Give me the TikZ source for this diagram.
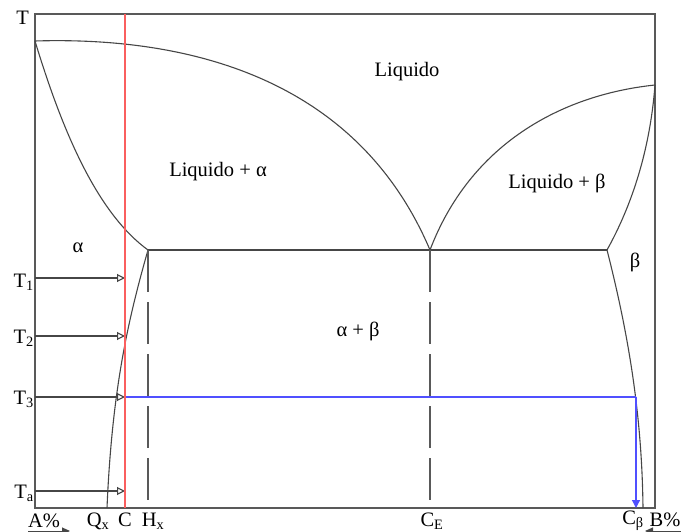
\documentclass[tikz,border=0pt]{standalone}
\usepackage{fontspec}
\setmainfont{Liberation Serif}
\usetikzlibrary{arrows.meta}
\definecolor{ln}{RGB}{70,70,70}
\definecolor{redl}{RGB}{250,95,95}
\definecolor{bluel}{RGB}{80,80,255}
\tikzset{
  curve/.style={draw=ln, line width=1.1pt},
  frame/.style={draw=ln!90, line width=1.4pt},
  dashv/.style={draw=ln!90, line width=1.4pt, dash pattern=on 42pt off 10pt},
  tarrow/.style={draw=ln, line width=1.1pt, -{Triangle[open, length=8pt, width=8pt]}},
  lbl/.style={font=\fontsize{20.5}{22}\selectfont, inner sep=0pt},
}
\begin{document}
\begin{tikzpicture}[x=1pt, y=-1pt]
\useasboundingbox (0,0) rectangle (681,532);
% frame
\coordinate (tl) at (35,14);
\coordinate (tr) at (655,14);
\coordinate (bl) at (35,508);
\coordinate (br) at (655,508);
\draw[frame] (bl) -- (tl) -- (tr) -- (br) -- cycle;
% key points
\coordinate (pA) at (35,41);
\coordinate (pB) at (655,85);
\coordinate (E) at (430,250);
\coordinate (Ha) at (148,250);
\coordinate (Hb) at (607,250);
\coordinate (Qx) at (107,508);
\coordinate (Cb) at (643,508);
\coordinate (HxB) at (148,508);
\coordinate (CEB) at (430,508);
% liquidus
\draw[curve] (pA) .. controls (200,36) and (360,85) .. (E);
\draw[curve] (E) .. controls (470,145) and (560,95) .. (pB);
% solidus
\draw[curve] (pA) .. controls (65,140) and (100,215) .. (Ha);
\draw[curve] (Hb) .. controls (632,205) and (650,150) .. (pB);
% eutectic
\draw[curve] (Ha) -- (Hb);
% solvus
\draw[curve] (Ha) .. controls (128,320) and (112,390) .. (Qx);
\draw[curve] (Hb) .. controls (630,340) and (642,420) .. (Cb);
% dashed verticals
\draw[dashv] (Ha) -- (HxB);
\draw[dashv] (E) -- (CEB);
% temperature arrows
\coordinate (T1s) at (35,278); \coordinate (T1e) at (125,278);
\coordinate (T2s) at (35,336); \coordinate (T2e) at (125,336);
\coordinate (T3s) at (35,397); \coordinate (T3e) at (125,397);
\coordinate (Tas) at (35,491); \coordinate (Tae) at (125,491);
\draw[tarrow] (T1s) -- (T1e);
\draw[tarrow] (T2s) -- (T2e);
\draw[tarrow] (T3s) -- (T3e);
\draw[tarrow] (Tas) -- (Tae);
% blue tie line
\coordinate (bS) at (125,397);
\coordinate (bC) at (636,397);
\coordinate (bE) at (636,508);
\draw[draw=bluel, line width=1.2pt] (bS) -- (bC);
\draw[draw=bluel, fill=bluel, line width=1.2pt, -{Triangle[length=8pt, width=8pt]}] (bC) -- (bE);
% red composition line
\coordinate (rT) at (125,14);
\coordinate (rB) at (125,508);
\draw[redl, line width=1.3pt] (rT) -- (rB);
% left labels
\node[lbl, anchor=east] (lT) at (29,18) {T};
\node[lbl, anchor=east] (lT1) at (34,282) {T\textsubscript{1}};
\node[lbl, anchor=east] (lT2) at (34,338) {T\textsubscript{2}};
\node[lbl, anchor=east] (lT3) at (34,399) {T\textsubscript{3}};
\node[lbl, anchor=east] (lTa) at (34,493) {T\textsubscript{a}};
% region labels
\node[lbl] (liq) at (407,72) {Liquido};
\node[lbl] (liqa) at (218,172) {Liquido + α};
\node[lbl] (liqb) at (557,183) {Liquido + β};
\node[lbl] (alpha) at (78,248) {α};
\node[lbl] (beta) at (635,262) {β};
\node[lbl] (ab) at (358,331) {α + β};
% bottom labels
\node[lbl] (lA) at (44,521) {A\%};
\node[lbl] (lQ) at (98,521) {Q\textsubscript{x}};
\node[lbl] (lC) at (125,520) {C};
\node[lbl] (lH) at (153,521) {H\textsubscript{x}};
\node[lbl] (lCE) at (432,521) {C\textsubscript{E}};
\node[lbl] (lCb) at (633,521) {C\textsubscript{β}};
\node[lbl] (lB) at (665,520) {B\%};
% small arrows at bottom
\coordinate (aAs) at (28,531); \coordinate (aAe) at (70,531);
\coordinate (aBs) at (681,531); \coordinate (aBe) at (645,531);
\draw[ln, line width=1pt, -{Triangle[length=8pt, width=7pt]}] (aAs) -- (aAe);
\draw[ln, line width=1pt, -{Triangle[length=8pt, width=7pt]}] (aBs) -- (aBe);
\end{tikzpicture}
\end{document}
